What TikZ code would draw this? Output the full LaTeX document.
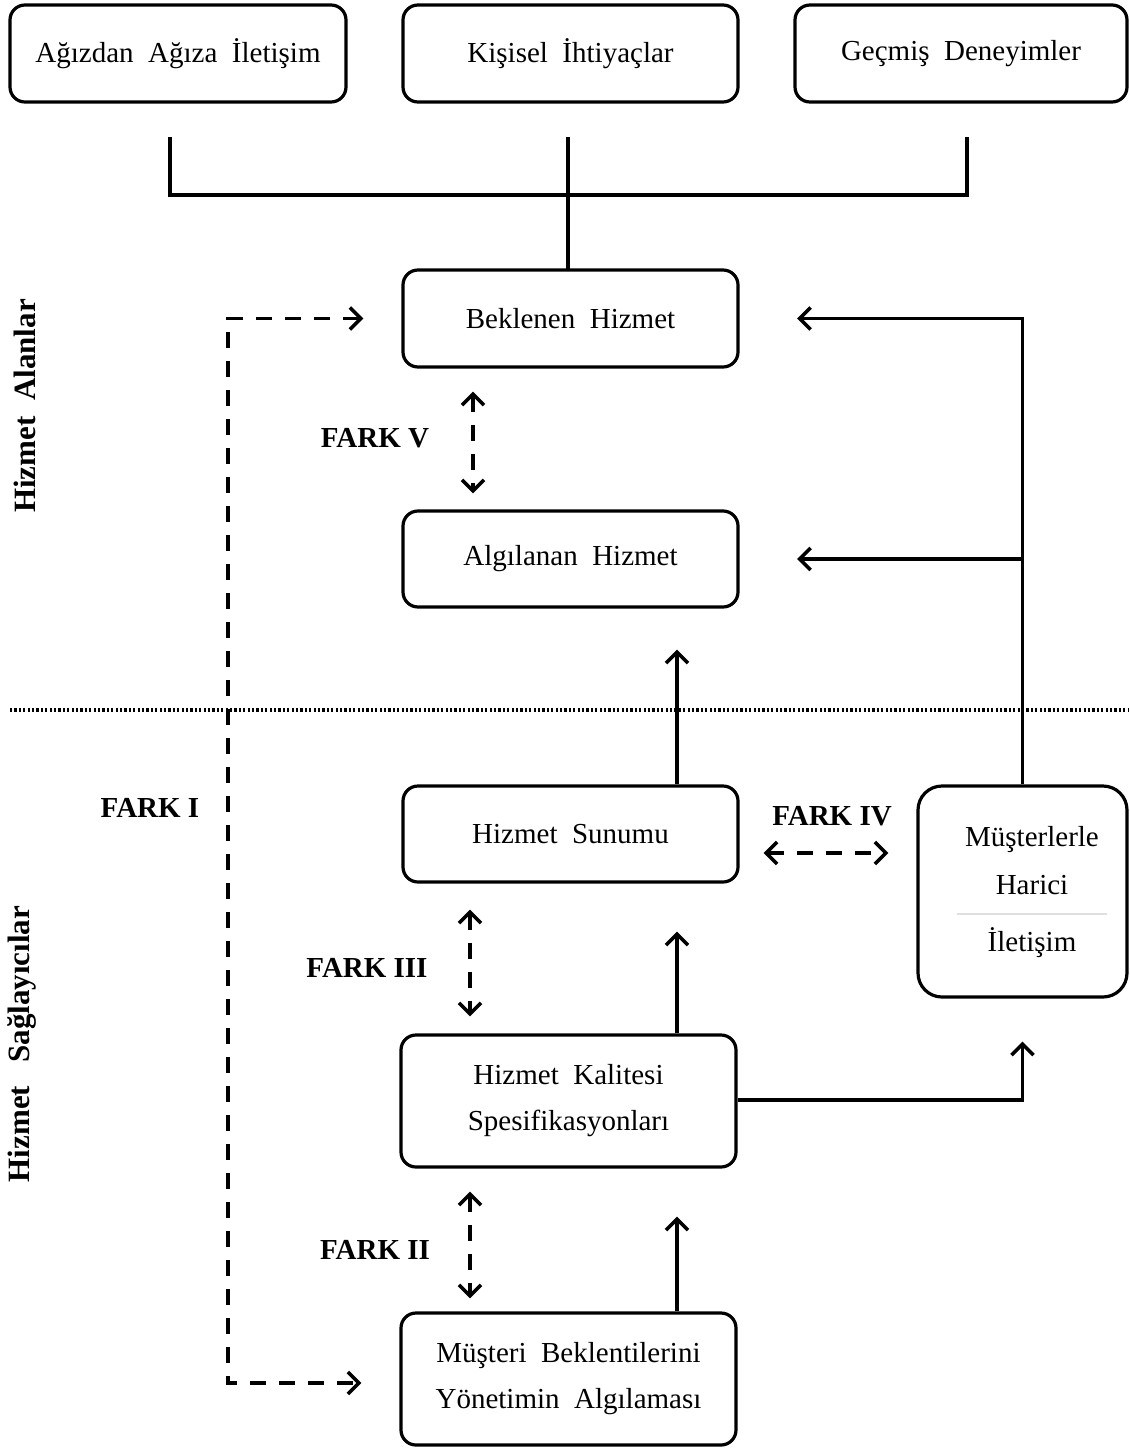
\documentclass[tikz,border=0pt]{standalone}
\usepackage{fontspec}
\setmainfont{Liberation Serif}
\usetikzlibrary{arrows.meta}
\begin{document}
\begin{tikzpicture}[x=0.5pt,y=-0.5pt,
  every node/.style={font=\fontsize{14.5}{17}\selectfont},
  box/.style={draw,line width=1.6pt,rounded corners=7.5pt,align=center,inner sep=0pt},
  conn/.style={line width=1.7pt},
  tip/.tip={Straight Barb[length=5.5pt,width=11pt,line width=1.8pt]},
  arr/.style={conn,-tip},
  dsh/.style={conn,dash pattern=on 8pt off 6.5pt},
  darr/.style={dsh,tip-tip},
  fark/.style={font=\fontsize{14.5}{17}\selectfont\bfseries},
  side/.style={font=\fontsize{15.5}{18}\selectfont\bfseries,rotate=90}]
\useasboundingbox (0,0) rectangle (1129,1450);

% source boxes
\node[box,minimum width=168pt,minimum height=48.5pt] (n1) at (178,53.5) {Ağızdan\ \ Ağıza\ \ İletişim};
\node[box,minimum width=167.5pt,minimum height=48.5pt] (n2) at (570.5,53.5) {\raisebox{-4pt}{Kişisel\ \ İhtiyaçlar}};
\node[box,minimum width=166pt,minimum height=48.5pt] (n3) at (961,53.5) {Geçmiş\ \ Deneyimler};

% customer side
\node[box,minimum width=167.5pt,minimum height=48.5pt] (bek) at (570.5,318.5) {Beklenen\ \ Hizmet};
\node[box,minimum width=167.5pt,minimum height=48pt] (alg) at (570.5,559) {Algılanan\ \ Hizmet};

% provider side
\node[box,minimum width=167.5pt,minimum height=48pt] (sun) at (570.5,834) {Hizmet\ \ Sunumu};
\node[box,minimum width=104.5pt,minimum height=105.5pt,rounded corners=12pt] (mus) at (1022.5,891.5) {};
\node (mus1) at (1032,840) {Müşterlerle};
\node (mus2) at (1032,885) {Harici};
\node (mus3) at (1032,943) {İletişim};
\draw[line width=0.6pt,gray!25] (957,914) -- (1107,914);
\node[box,minimum width=167.5pt,minimum height=66pt] (kal) at (568.5,1101) {Hizmet\ \ Kalitesi\\[6pt]Spesifikasyonları};
\node[box,minimum width=167.5pt,minimum height=66pt] (mb) at (568.5,1379) {Müşteri\ \ Beklentilerini\\[6pt]Yönetimin\ \ Algılaması};

% divider between the two sides
\draw[line width=1.9pt,dash pattern=on 1.1pt off 1.1pt] (10,710) -- (1129,710);

% side titles
\node[side] (sa) at (25,406) {Hizmet\ \ Alanlar};
\node[side] (sb) at (22,1044) {Hizmet\ \ \ Sağlayıcılar};

% bracket joining the sources into the expected service
\coordinate (j1) at (170,137);
\coordinate (j3) at (967,137);
\coordinate (jy) at (0,195);
\draw[conn] (j1) -- (j1 |- jy) -- (j3 |- jy) -- (j3);
\draw[conn] (568,137) -- (568,270);

% external communication feeding both customer boxes
\coordinate (rx) at (797,0);
\draw[arr] (mus.north) |- (rx |- bek.center);
\draw[arr] (mus.north |- alg.center) -- (rx |- alg.center);

% upward flows
\coordinate (ux) at (677,0);
\draw[arr,shorten >=20.5pt] (ux |- sun.north) -- (ux |- alg.south);
\draw[arr,shorten >=24pt] (ux |- kal.north) -- (ux |- sun.south);
\draw[arr,shorten >=24pt] (ux |- mb.north) -- (ux |- kal.south);
\draw[arr,shorten >=21.5pt] (kal.east |- 0,1100) -| (mus.south);

% gaps
\coordinate (g5) at (473,0);
\coordinate (g3) at (470,0);
\draw[darr,shorten <=11.5pt,shorten >=8pt] (g5 |- bek.south) -- (g5 |- alg.north);
\draw[darr,shorten <=13pt,shorten >=8.5pt] (g3 |- sun.south) -- (g3 |- kal.north);
\draw[darr,shorten <=11.5pt,shorten >=6.5pt] (g3 |- kal.south) -- (g3 |- mb.north);
\draw[darr,shorten <=12pt,shorten >=14pt] (sun.east |- 0,853) -- (mus.west |- 0,853);
\draw[darr,shorten <=19pt,shorten >=19pt] (bek.west) -| (228,1383) -- (mb.west |- 0,1383);

\node[fark] (f5) at (375,438) {FARK V};
\node[fark] (f3) at (367,968) {FARK III};
\node[fark] (f2) at (375,1250) {FARK II};
\node[fark] (f4) at (832,816) {FARK IV};
\node[fark] (f1) at (150,808) {FARK I};
\end{tikzpicture}
\end{document}
